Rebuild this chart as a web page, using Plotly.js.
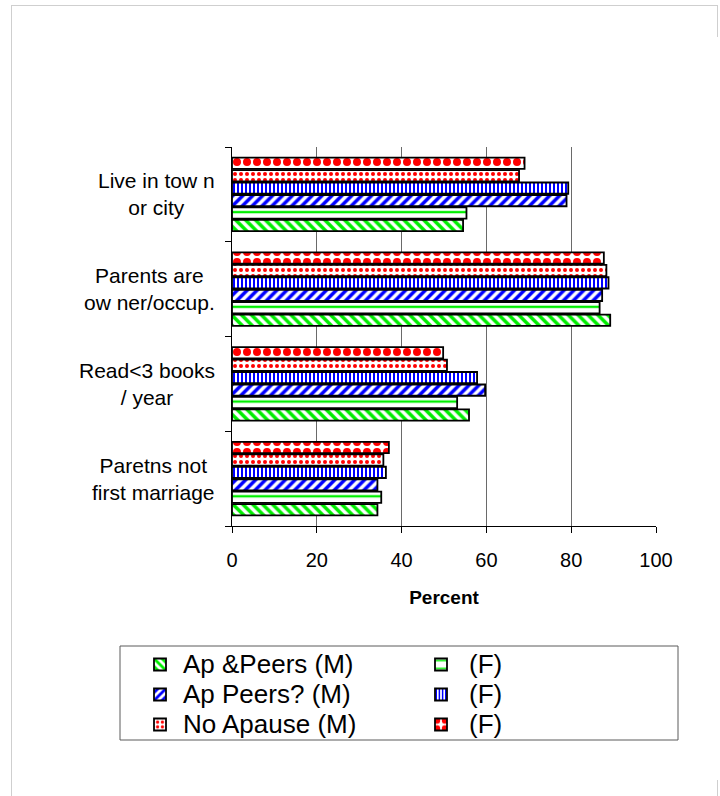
<!DOCTYPE html>
<html>
<head>
<meta charset="utf-8">
<script src="https://cdn.plot.ly/plotly-3.0.1.min.js"></script>
<style>
  html, body { margin: 0; padding: 0; background: #ffffff; }
  #wrap { position: relative; width: 720px; height: 796px; overflow: hidden; }
  #chart { position: absolute; left: 0; top: 0; width: 720px; height: 796px; }
  .edge { position: absolute; background: #cfcfcf; pointer-events: none; }
</style>
</head>
<body>
<div id="wrap">
  <div id="chart"></div>
  <!-- light page frame around the chart -->
  <div class="edge" style="left:11px; top:5px; width:707px; height:1px;"></div>
  <div class="edge" style="left:11px; top:5px; width:1px; height:800px;"></div>
  <div class="edge" style="left:717px; top:5px; width:1px; height:32px;"></div>
  <div class="edge" style="left:717px; top:780px; width:1px; height:20px;"></div>
</div>
<script>
// Categories, listed top to bottom as they appear on the chart
const categories = [
  "Live in tow n<br>or city",
  "Parents are<br>ow ner/occup.",
  "Read&lt;3 books<br>/ year",
  "Paretns not<br>first marriage"
];

// Percent values per group, same order as categories
const apPeersM      = [54.5, 89.2, 55.9, 34.3];
const apPeersF      = [55.3, 86.7, 53.1, 35.2];
const apPeersQM     = [78.9, 87.3, 59.7, 34.3];
const apPeersQF     = [79.3, 88.8, 57.8, 36.3];
const noApauseM     = [67.7, 88.3, 50.7, 35.7];
const noApauseF     = [69.0, 87.7, 49.8, 37.0];

// Legend labels, row by row: (M) series on the left, (F) series on the right
const seriesNames = [
  "Ap &Peers (M)", "(F)",
  "Ap Peers? (M)", "(F)",
  "No Apause (M)", "(F)"
];

const xTickVals = [0, 20, 40, 60, 80, 100];

const FONT = "Liberation Sans, Arial, Helvetica, sans-serif";

// The legend only draws the patterned swatches (empty entry text);
// each series' label is written next to its swatch as an annotation.
function barTrace(label, values, fg, shape, size, solidity) {
  return {
    type: "bar",
    orientation: "h",
    name: "",
    meta: label,
    x: values,
    y: categories,
    marker: {
      color: fg,
      line: { color: "#000000", width: 1.8 },
      pattern: { shape: shape, fgcolor: fg, bgcolor: "#ffffff", size: size, solidity: solidity }
    },
    hovertemplate: "%{meta}: %{x}<extra></extra>"
  };
}

// Bottom-most bar in each group is the first trace
const data = [
  barTrace(seriesNames[0], apPeersM,  "#00ee00", "\\", 7, 0.5),
  barTrace(seriesNames[1], apPeersF,  "#00ee00", "-", 11.84, 0.2),
  barTrace(seriesNames[2], apPeersQM, "#0000ff", "/", 7, 0.5),
  barTrace(seriesNames[3], apPeersQF, "#0000ff", "|", 4, 0.5),
  barTrace(seriesNames[4], noApauseM, "#ff0000", ".", 6, 0.35),
  barTrace(seriesNames[5], noApauseF, "#ff0000", ".", 10, 0.5)
];

const M = { l: 232, r: 64, t: 147, b: 270 };
const plotW = 720 - M.l - M.r;
const plotH = 796 - M.t - M.b;
const px2x = px => (px - M.l) / plotW;
const px2y = py => (M.t + plotH - py) / plotH;

// Category labels: right-aligned block, lines centred within it
const labelAnnotations = categories.map(c => ({
  xref: "paper", yref: "y",
  x: px2x(216), y: c,
  xanchor: "right", yanchor: "middle",
  align: "center",
  text: c,
  showarrow: false,
  borderpad: 0,
  font: { family: FONT, size: 21, color: "#000000" }
}));

// Legend text beside the swatches
const legendRowsY = [664, 694, 724];
const legendColsX = [182, 468];
const legendTextAnnotations = seriesNames.map((name, i) => ({
  xref: "paper", yref: "paper",
  x: px2x(legendColsX[i % 2]),
  y: px2y(legendRowsY[Math.floor(i / 2)]),
  xanchor: "left", yanchor: "middle",
  text: name,
  showarrow: false,
  borderpad: 0,
  font: { family: FONT, size: 26, color: "#000000" }
}));

const layout = {
  width: 720,
  height: 796,
  margin: M,
  paper_bgcolor: "#ffffff",
  plot_bgcolor: "#ffffff",
  barmode: "group",
  bargap: 0.21,
  bargroupgap: 0.1,
  showlegend: true,
  font: { family: FONT, color: "#000000" },
  xaxis: {
    range: [0, 100],
    tickvals: xTickVals,
    ticktext: xTickVals.map(String),
    ticks: "outside",
    ticklen: 6,
    tickcolor: "#000000",
    tickfont: { family: FONT, size: 20, color: "#000000" },
    ticklabelstandoff: 10,
    showline: true,
    linecolor: "#000000",
    linewidth: 1.2,
    showgrid: true,
    gridcolor: "#6a6a6a",
    gridwidth: 1,
    zeroline: false,
    fixedrange: true,
    title: {
      text: "<b>Percent</b>",
      font: { family: FONT, size: 19, color: "#000000" },
      standoff: 20
    }
  },
  yaxis: {
    type: "category",
    categoryorder: "array",
    categoryarray: categories.slice().reverse(),
    tickson: "boundaries",
    ticks: "outside",
    ticklen: 6,
    tickcolor: "#000000",
    showticklabels: false,
    showline: true,
    linecolor: "#000000",
    linewidth: 1.2,
    showgrid: false,
    zeroline: false,
    fixedrange: true
  },
  legend: {
    orientation: "h",
    traceorder: "normal",
    x: px2x(140),
    y: px2y(644.5),
    xanchor: "left",
    yanchor: "top",
    entrywidth: 236,
    entrywidthmode: "pixels",
    bgcolor: "rgba(0,0,0,0)",
    borderwidth: 0,
    font: { family: FONT, size: 20.77, color: "#000000" }
  },
  shapes: [{
    type: "rect",
    xref: "paper", yref: "paper",
    x0: px2x(120), x1: px2x(678),
    y0: px2y(740), y1: px2y(646),
    line: { color: "#5a5a5a", width: 1 },
    fillcolor: "rgba(0,0,0,0)",
    layer: "below"
  }],
  annotations: labelAnnotations.concat(legendTextAnnotations)
};

Plotly.newPlot("chart", data, layout, { displayModeBar: false, staticPlot: true });
</script>
</body>
</html>
